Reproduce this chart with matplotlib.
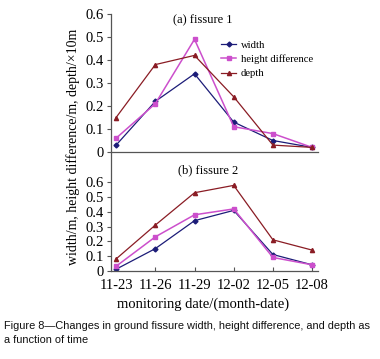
import matplotlib
matplotlib.use("Agg")
import matplotlib.pyplot as plt
import numpy as np

dates = ["11-23", "11-26", "11-29", "12-02", "12-05", "12-08"]
f1_width = [0.03, 0.22, 0.34, 0.13, 0.05, 0.02]
f1_height = [0.06, 0.21, 0.49, 0.11, 0.08, 0.02]
f1_depth = [0.15, 0.38, 0.42, 0.24, 0.03, 0.02]
f2_width = [0.01, 0.15, 0.34, 0.41, 0.11, 0.04]
f2_height = [0.03, 0.23, 0.38, 0.42, 0.09, 0.04]
f2_depth = [0.08, 0.31, 0.53, 0.58, 0.21, 0.14]
yticks = [0, 0.1, 0.2, 0.3, 0.4, 0.5, 0.6]
ytick_labels = ["0", "0.1", "0.2", "0.3", "0.4", "0.5", "0.6"]

c_w, c_h, c_d = "#1c1c78", "#cc4fcc", "#8a1c24"
serif = ["Liberation Serif", "DejaVu Serif"]
plt.rcParams["font.family"] = serif

fig = plt.figure(figsize=(3.8, 3.59), dpi=100)
L, R = 111 / 380, 318 / 380
ax1 = fig.add_axes([L, 1 - 152 / 359, R - L, (152 - 14) / 359])
ax2 = fig.add_axes([L, 1 - 270.7 / 359, R - L, (270.7 - 152) / 359])
x = np.arange(len(dates))

for ax, (w, h, d) in ((ax1, (f1_width, f1_height, f1_depth)), (ax2, (f2_width, f2_height, f2_depth))):
    ax.plot(x, w, color=c_w, marker="D", ms=2.5, lw=0.9, label="width")
    ax.plot(x, h, color=c_h, marker="s", ms=3, lw=1.1, label="height difference")
    ax.plot(x, d, color=c_d, marker="^", ms=3, lw=0.9, label="depth")
    ax.set_xlim(-0.13, 5.15)
    ax.spines["top"].set_visible(False)
    ax.spines["right"].set_visible(False)
    for s in ("left", "bottom"):
        ax.spines[s].set_color("#555555")
        ax.spines[s].set_linewidth(0.9)
    ax.set_yticks(yticks)
    ax.set_yticklabels(ytick_labels)
    ax.tick_params(axis="y", direction="out", length=3, labelsize=10.5, pad=2, color="#555555")
    ax.patch.set_visible(False)

ax1.set_ylim(0, 0.6)
ax1.set_xticks([])
ax1.text(0.444, 0.955, "(a) fissure 1", transform=ax1.transAxes, ha="center", va="center", fontsize=9)
ax1.legend(loc="upper right", bbox_to_anchor=(1.0, 0.85), frameon=False, fontsize=7.7,
           handlelength=1.4, handletextpad=0.4, labelspacing=0.45, borderaxespad=0.1)

ax2.set_ylim(0, 0.807)
ax2.set_xticks(x)
ax2.set_xticklabels(dates)
ax2.tick_params(axis="x", direction="in", length=3, labelsize=10.5, pad=6, color="#555555")
ax2.text(0.47, (0.807 - 0.125) / 0.807, "(b) fissure 2", transform=ax2.transAxes, ha="center", va="center", fontsize=9)

fig.text(73 / 380, 1 - 147 / 359, "width/m, height difference/m, depth/\u00d710m", rotation=90,
         ha="center", va="center", fontsize=10)
fig.text(203 / 380, 1 - 304 / 359, "monitoring date/(month-date)", ha="center", va="center", fontsize=10.5)

cap = "Figure 8\u2014Changes in ground fissure width, height difference, and depth as\na function of time"
fig.text(4 / 380, 1 - 321 / 359, cap, ha="left", va="top", fontsize=7.9, color="#111111",
         family=["Liberation Sans", "DejaVu Sans"], linespacing=1.45)

fig.savefig("out.png", dpi=100)
